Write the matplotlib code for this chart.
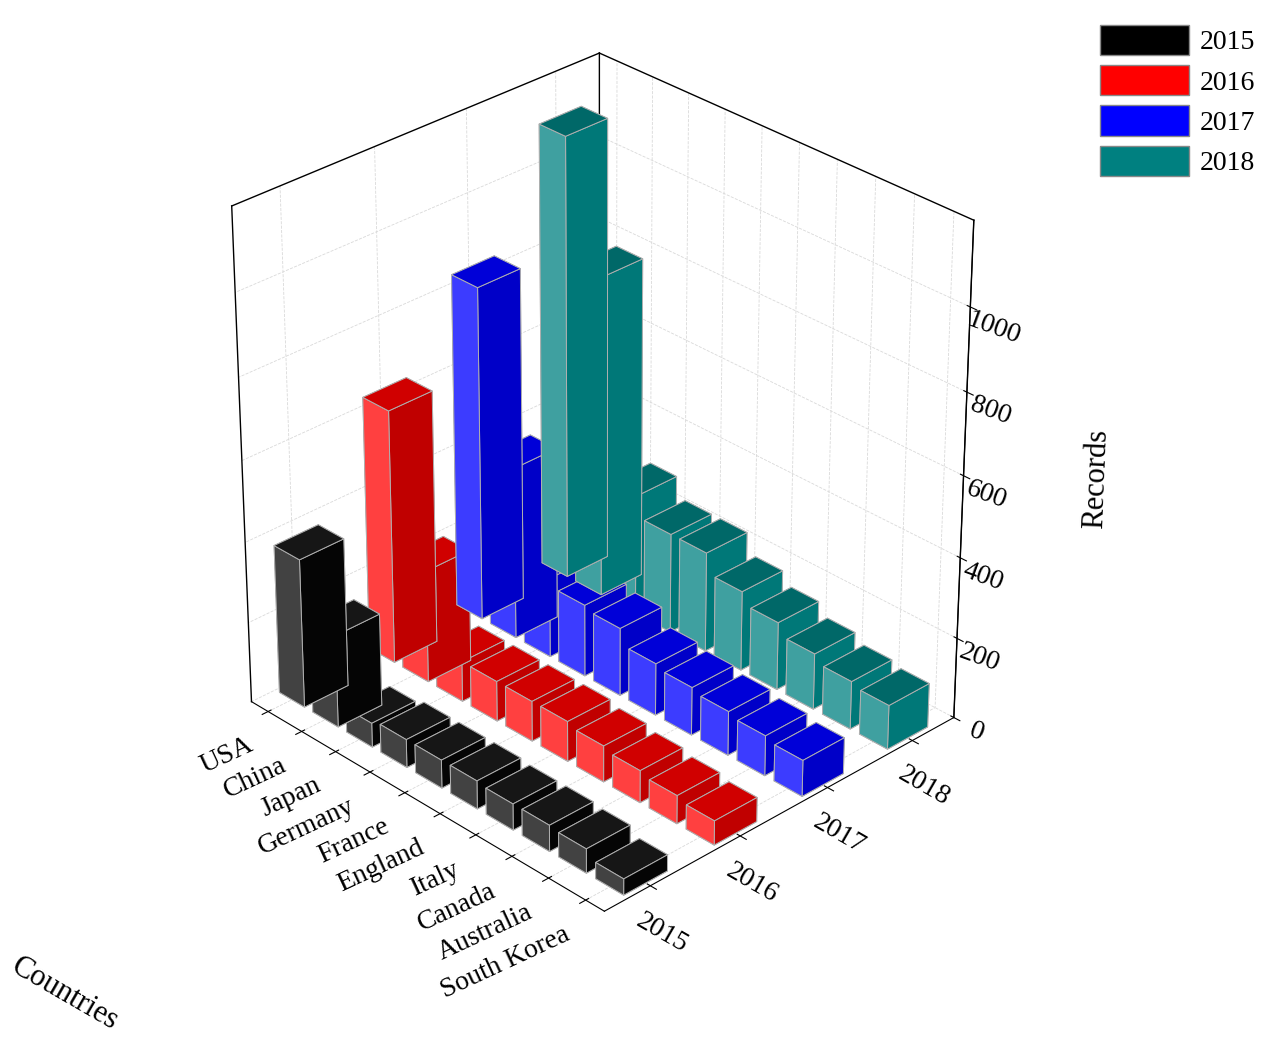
import matplotlib
matplotlib.use("Agg")
import matplotlib.pyplot as plt
import numpy as np
from matplotlib.patches import Patch

plt.rcParams['font.family'] = ['Liberation Serif', 'DejaVu Serif']

countries = ["USA","China","Japan","Germany","France","England","Italy","Canada","Australia","South Korea"]
years = ["2015","2016","2017","2018"]
v2015 = [370, 230, 60, 70, 70, 70, 65, 65, 60, 40]
v2016 = [630, 280, 100, 100, 100, 100, 90, 80, 70, 60]
v2017 = [830, 430, 200, 180, 170, 130, 120, 110, 100, 90]
v2018 = [1100, 800, 300, 250, 250, 200, 170, 140, 120, 110]
colors = ["#000000", "#ff0000", "#0000ff", "#008080"]
# face colours: (top, front(-y), side(+x))
faces = [("#161616", "#424242", "#050505"),
         ("#d00000", "#ff4040", "#c00000"),
         ("#0000d8", "#3c3cff", "#0000c8"),
         ("#006868", "#3fa0a0", "#007878")]
series = [v2015, v2016, v2017, v2018]

fig = plt.figure(figsize=(12.8, 10.46), dpi=100)
ax = fig.add_axes([0.0, 0.08, 0.92, 0.92], projection='3d')
dx, dy = 0.75, 0.48
for j, vals in enumerate(series):
    top, front, side = faces[j]
    fc = [top, top, front, front, side, side]  # -z,+z,-y,+y,-x,+x
    for i, v in enumerate(vals):
        ax.bar3d(i - dx/2, j - dy/2, 0, dx, dy, v, color=fc, edgecolor='#b0b0b0',
                 linewidth=0.7, shade=False)

zmax = 1200
ax.set_xticks(range(len(countries)))
ax.set_xticklabels(countries, fontsize=20, rotation=25, ha='right', va='top')
ax.set_yticks(range(len(years)))
ax.set_yticklabels(years, fontsize=20, rotation=-30)
ax.set_zticks([0,200,400,600,800,1000])
ax.set_zticklabels(["0","200","400","600","800","1000"], fontsize=20, rotation=-20)
ax.set_zlim(0, zmax)
ax.set_xlim(-0.5, 9.5)
ax.set_ylim(-0.5, 3.5)
ax.set_zlabel("Records", fontsize=22, labelpad=45)
ax.view_init(elev=30, azim=-44)
ax.set_box_aspect((1.05, 1.0, 1.15), zoom=0.93)
for a in (ax.xaxis, ax.yaxis, ax.zaxis):
    a.set_pane_color((1, 1, 1, 0))
    a._axinfo['grid']['color'] = (0.85, 0.85, 0.85, 1)
    a._axinfo['grid']['linewidth'] = 0.6
    a._axinfo['grid']['linestyle'] = '--'
    a.line.set_color('black')
kw = dict(color='black', lw=1)
ax.plot([-0.5, -0.5], [3.5, 3.5], [0, zmax], **kw)
ax.plot([-0.5, 9.5], [3.5, 3.5], [zmax, zmax], **kw)
ax.plot([-0.5, -0.5], [-0.5, 3.5], [zmax, zmax], **kw)
ax.plot([-0.5, -0.5], [-0.5, -0.5], [0, zmax], **kw)
ax.plot([9.5, 9.5], [3.5, 3.5], [0, zmax], **kw)

fig.text(0.005, 0.05, "Countries", fontsize=22, rotation=-30, ha='left', va='center')

handles = [Patch(facecolor=c, edgecolor='#888888', label=y) for c, y in zip(colors, years)]
fig.legend(handles=handles, loc='upper right', bbox_to_anchor=(1.0, 1.0), fontsize=20,
           frameon=False, handlelength=3.2, handleheight=1.3, labelspacing=0.35, handletextpad=0.4)
fig.savefig("out.png", dpi=100)
